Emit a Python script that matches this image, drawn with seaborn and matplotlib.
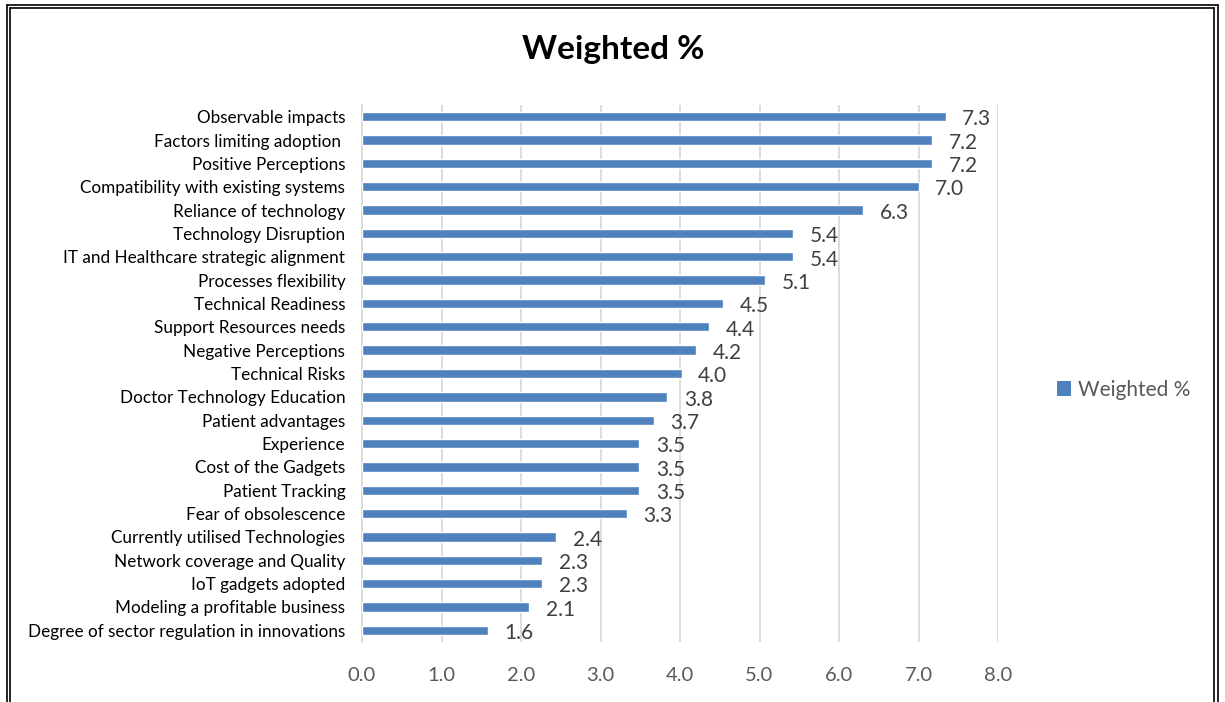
import matplotlib
matplotlib.use("Agg")
import matplotlib.pyplot as plt
import seaborn as sns
import pandas as pd
from matplotlib.lines import Line2D
from matplotlib.patches import Patch

categories = [
    "Observable impacts", "Factors limiting adoption ", "Positive Perceptions",
    "Compatibility with existing systems", "Reliance of technology", "Technology Disruption",
    "IT and Healthcare strategic alignment", "Processes flexibility", "Technical Readiness",
    "Support Resources needs", "Negative Perceptions", "Technical Risks",
    "Doctor Technology Education", "Patient advantages", "Experience",
    "Cost of the Gadgets", "Patient Tracking", "Fear of obsolescence",
    "Currently utilised Technologies", "Network coverage and Quality", "IoT gadgets adopted",
    "Modeling a profitable business", "Degree of sector regulation in innovations",
]
values = [7.34, 7.17, 7.17, 7.00, 6.30, 5.42, 5.42, 5.07, 4.54, 4.37, 4.20, 4.02,
          3.84, 3.67, 3.49, 3.49, 3.49, 3.33, 2.44, 2.27, 2.27, 2.10, 1.58]
xticks = [0, 1, 2, 3, 4, 5, 6, 7, 8]
series_name = "Weighted %"

sns.set_theme(style="white")
plt.rcParams["font.family"] = ["Lato", "DejaVu Sans"]

df = pd.DataFrame({"cat": categories, "val": values})

fig = plt.figure(figsize=(12.25, 7.02), dpi=100)
ax = fig.add_axes([362 / 1225, 1 - 642 / 702, (998 - 362) / 1225, (642 - 105) / 702])

color = "#4F81BD"
sns.barplot(data=df, x="val", y="cat", orient="h", color=color, width=0.4,
            saturation=1, ax=ax, zorder=3)

ax.set_xlim(0, 8)
ax.set_ylim(len(categories) - 0.5, -0.5)
ax.set_xticks(xticks)
ax.set_xticklabels([f"{t:.1f}" for t in xticks], fontsize=14.5, color="#595959")
ax.tick_params(axis="x", length=0, pad=18)
ax.tick_params(axis="y", length=0, pad=12, labelsize=12.3, labelcolor="#000000")
ax.set_xlabel("")
ax.set_ylabel("")
ax.grid(axis="x", color="#d9d9d9", linewidth=1.3, zorder=0)
for s in ["top", "right", "bottom"]:
    ax.spines[s].set_visible(False)
ax.spines["left"].set_color("#d9d9d9")
ax.spines["left"].set_linewidth(1.3)

texts = ax.bar_label(ax.containers[0], labels=[f"{v:.1f}" for v in values], padding=12,
                     fontsize=15, color="#404040")
for t in texts:
    t.set_va("top")
    t.set_y(0)
for t in texts:
    t.set_va("center")
    t.xyann = (t.xyann[0], -2)

fig.suptitle(series_name, x=613 / 1225, y=1 - 50 / 702, va="center",
             fontsize=24, fontweight="bold", color="#000000")

handle = Patch(facecolor=color, edgecolor="none")
fig.legend([handle], [series_name], loc="center left",
           bbox_to_anchor=(1038 / 1225, 1 - 390 / 702), frameon=False,
           fontsize=15, labelcolor="#595959", handlelength=0.7, handleheight=0.7,
           handletextpad=0.3)

# double frame border
W, H = 1225, 702
def fx(x): return x / W
def fy(y): return 1 - y / H
for xl in [7, 10]:
    fig.add_artist(Line2D([fx(xl), fx(xl)], [fy(5 if xl == 7 else 8), 0], color="black", lw=1.2))
for xr in [1214, 1218]:
    fig.add_artist(Line2D([fx(xr), fx(xr)], [fy(5 if xr == 1218 else 8), 0], color="black", lw=1.2))
fig.add_artist(Line2D([fx(7), fx(1218)], [fy(5), fy(5)], color="black", lw=1.2))
fig.add_artist(Line2D([fx(10), fx(1214)], [fy(8), fy(8)], color="black", lw=1.2))

fig.savefig("out.png", dpi=100)
